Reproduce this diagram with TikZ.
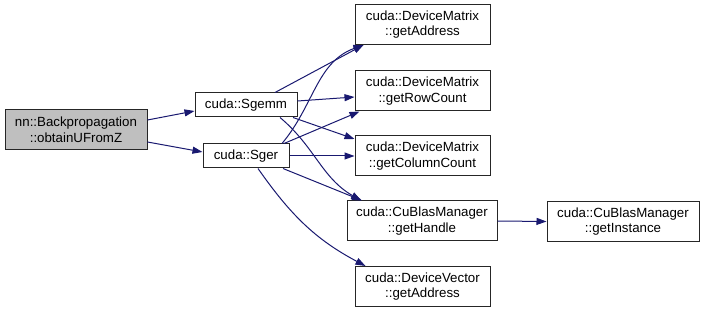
\documentclass[tikz,border=0pt]{standalone}
\usepackage{fontspec}
\setmainfont{Liberation Sans}
\usepackage{xcolor}
\usepackage{tikz}
\usetikzlibrary{arrows.meta,positioning}
\definecolor{cgedge}{RGB}{25,25,112}
\definecolor{cgroot}{RGB}{191,191,191}

\begin{document}
\begin{tikzpicture}[
    x=1pt, y=1pt,
    fn/.style={rectangle, draw=black!85, fill=white, line width=1pt,
               minimum height=40pt, inner sep=0pt, align=center,
               font=\fontsize{13.3}{15.7}\selectfont},
    small/.style={fn, minimum height=24pt},
    call/.style={-{Triangle[length=10pt,width=7pt]}, line width=1pt, cgedge}
]
\useasboundingbox (0,0) rectangle (704,-312);

% caller and the two BLAS wrappers
\node[fn, fill=cgroot, minimum width=142pt] (root) at (76,-130) {nn::Backpropagation\\::obtainUFromZ};
\node[small, minimum width=102pt] (sgemm) at (246,-105) {cuda::Sgemm};
\node[small, minimum width=86pt] (sger) at (246,-156) {cuda::Sger};

% callees
\node[fn, minimum width=135pt] (dmaddr) at (422.5,-24.5) {cuda::DeviceMatrix\\::getAddress};
\node[fn, minimum width=135pt] (dmrow) at (422.5,-91) {cuda::DeviceMatrix\\::getRowCount};
\node[fn, minimum width=135pt] (dmcol) at (422.5,-156) {cuda::DeviceMatrix\\::getColumnCount};
\node[fn, minimum width=150pt] (handle) at (422,-221) {cuda::CuBlasManager\\::getHandle};
\node[fn, minimum width=135pt] (dvaddr) at (422.5,-286.5) {cuda::DeviceVector\\::getAddress};
\node[fn, minimum width=152pt] (instance) at (623,-221.5) {cuda::CuBlasManager\\::getInstance};

\draw[call] ([yshift=10pt]root.east) -- ([yshift=-6pt]sgemm.west);
\draw[call] ([yshift=-12pt]root.east) -- ([yshift=4pt]sger.west);

\draw[call] ([xshift=29pt]sgemm.north) -- ([xshift=-59pt]dmaddr.south);
\draw[call] ([yshift=4pt]sgemm.east) -- ([yshift=-6pt]dmrow.west);
\draw[call] ([xshift=47pt]sgemm.south) -- ([yshift=17pt]dmcol.west);
\draw[call] ([xshift=34pt]sgemm.south) to[out=-40,in=150] ([xshift=-61pt]handle.north);

\draw[call] ([xshift=36pt]sger.north) to[out=50,in=200] ([xshift=-59pt]dmaddr.south);
\draw[call] ([xshift=38pt]sger.north) -- ([xshift=5pt]dmrow.south west);
\draw[call] (sger.east) -- (dmcol.west);
\draw[call] ([xshift=37pt]sger.south) -- ([xshift=-60pt]handle.north);
\draw[call] ([xshift=12pt]sger.south) to[out=-55,in=152] ([xshift=-57pt]dvaddr.north);

\draw[call] (handle.east) -- (instance.west);
\end{tikzpicture}
\end{document}
